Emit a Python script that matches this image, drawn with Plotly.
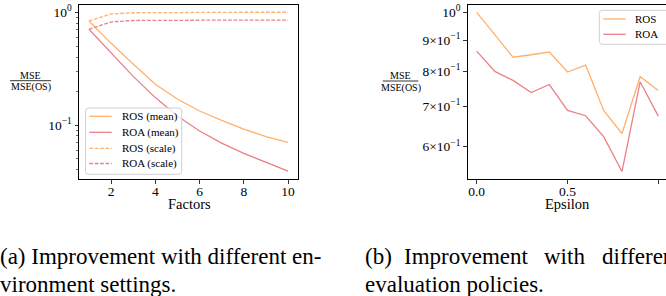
import plotly.graph_objects as go

# ---------------- data ----------------
factors = [1, 2, 3, 4, 5, 6, 7, 8, 9, 10]
ros_mean = [0.837, 0.53, 0.347, 0.23, 0.17, 0.133, 0.11, 0.092, 0.079, 0.070]
roa_mean = [0.706, 0.435, 0.27, 0.175, 0.12, 0.0885, 0.069, 0.056, 0.047, 0.039]
ros_scale = [0.837, 0.965, 0.99, 0.995, 0.998, 1.0, 1.0, 1.0, 1.0, 1.0]
roa_scale = [0.706, 0.82, 0.845, 0.849, 0.851, 0.852, 0.853, 0.853, 0.853, 0.853]

epsilon = [0.0, 0.1, 0.2, 0.3, 0.4, 0.5, 0.6, 0.7, 0.8, 0.9, 1.0]
ros_eps = [1.0, 0.918, 0.843, 0.851, 0.860, 0.797, 0.818, 0.688, 0.631, 0.783, 0.743]
roa_eps = [0.863, 0.799, 0.772, 0.737, 0.760, 0.689, 0.675, 0.623, 0.546, 0.768, 0.674]

left_yticks = [0.1, 1.0]
left_yticktext = ["10<sup>\u22121</sup>", "10<sup>0</sup>"]
left_yminor = [0.04, 0.05, 0.06, 0.07, 0.08, 0.09, 0.2, 0.3, 0.4, 0.5, 0.6, 0.7, 0.8, 0.9]
left_xticks = [2, 4, 6, 8, 10]

right_yticks = [0.6, 0.7, 0.8, 0.9, 1.0]
right_yticktext = ["6\u00d710<sup>\u22121</sup>", "7\u00d710<sup>\u22121</sup>",
                   "8\u00d710<sup>\u22121</sup>", "9\u00d710<sup>\u22121</sup>", "10<sup>0</sup>"]
right_xticks = [0.0, 0.5, 1.0]
right_xticktext = ["0.0", "0.5", "1.0"]

left_legend_names = ["ROS (mean)", "ROA (mean)", "ROS (scale)", "ROA (scale)"]
right_legend_names = ["ROS", "ROA"]

ORANGE = "#FFB16E"
RED = "#EB8088"
DASH = "3.7px,1.7px"
FONT = "Liberation Serif"
W, H = 666, 296


def px(x):
    return x / W


def py(y):
    return 1 - y / H


fig = go.Figure()

left_styles = [(ros_mean, ORANGE, "solid"), (roa_mean, RED, "solid"),
               (ros_scale, ORANGE, DASH), (roa_scale, RED, DASH)]
for name, (vals, col, dash) in zip(left_legend_names, left_styles):
    fig.add_trace(go.Scatter(x=factors, y=vals, mode="lines", name=name,
                             line=dict(color=col, width=1.3, dash=dash), xaxis="x", yaxis="y"))

right_styles = [(ros_eps, ORANGE), (roa_eps, RED)]
for name, (vals, col) in zip(right_legend_names, right_styles):
    fig.add_trace(go.Scatter(x=epsilon, y=vals, mode="lines", name=name,
                             line=dict(color=col, width=1.3), xaxis="x2", yaxis="y2"))

tickfont = dict(family=FONT, size=13.5, color="black")
axis_common = dict(showgrid=False, zeroline=False, showline=True, linecolor="black", linewidth=1,
                   ticks="outside", ticklen=3.5, tickwidth=0.8, tickcolor="black", tickfont=tickfont)

fig.update_layout(
    width=W, height=H, margin=dict(l=0, r=0, t=0, b=0),
    paper_bgcolor="white", plot_bgcolor="white",
    font=dict(family=FONT, color="black"),
    showlegend=False, hovermode=False,
    xaxis=dict(domain=[px(79), px(298)], range=[0.55, 10.45], tickmode="array", tickvals=left_xticks,
               mirror=True, anchor="y", ticklabelstandoff=-4, **axis_common),
    yaxis=dict(domain=[py(179), py(4.7)], type="log", range=[-1.479, 0.067], tickmode="array",
               tickvals=left_yticks, ticktext=left_yticktext, mirror=True, anchor="x",
               minor=dict(tickmode="array", tickvals=left_yminor, ticks="outside", ticklen=2,
                          tickwidth=0.6, tickcolor="black"),
               **axis_common),
    xaxis2=dict(domain=[px(467.6), 1.0], range=[-0.05, 1.0424], tickmode="array", tickvals=right_xticks,
                ticktext=right_xticktext, mirror=True, anchor="y2", ticklabelstandoff=-4, **axis_common),
    yaxis2=dict(domain=[py(179), py(4.7)], type="log", range=[-0.2751, 0.01254], tickmode="array",
                tickvals=right_yticks, ticktext=right_yticktext, mirror=False, anchor="x2",
                **axis_common),
)

annotations = []
shapes = []


def text(x, y, s, size, xanchor="center", yanchor="middle"):
    annotations.append(dict(x=px(x), y=py(y), xref="paper", yref="paper", text=s, showarrow=False,
                            xanchor=xanchor, yanchor=yanchor, borderpad=0,
                            font=dict(family=FONT, size=size, color="black")))


def rounded_box(x0, y0, x1, y1, r=3):
    rx, ry = r / W, r / H
    X0, X1, Y0, Y1 = px(x0), px(x1), py(y1), py(y0)
    path = (f"M {X0+rx},{Y0} L {X1-rx},{Y0} Q {X1},{Y0} {X1},{Y0+ry} L {X1},{Y1-ry} "
            f"Q {X1},{Y1} {X1-rx},{Y1} L {X0+rx},{Y1} Q {X0},{Y1} {X0},{Y1-ry} "
            f"L {X0},{Y0+ry} Q {X0},{Y0} {X0+rx},{Y0} Z")
    shapes.append(dict(type="path", xref="paper", yref="paper", path=path,
                       fillcolor="rgba(255,255,255,0.8)", line=dict(color="#d0d0d0", width=1)))


def legend(names, styles, box, rows, lx0, lx1, tx):
    rounded_box(*box)
    for n, st, ry in zip(names, styles, rows):
        col, dash = st
        shapes.append(dict(type="line", xref="paper", yref="paper", x0=px(lx0), x1=px(lx1),
                           y0=py(ry), y1=py(ry), line=dict(color=col, width=1.3, dash=dash)))
        text(tx, ry, n, 11, xanchor="left")


legend(left_legend_names, [(c, d) for _, c, d in left_styles], (85.5, 108, 181.7, 174.3),
       [116.3, 132.3, 148.3, 163.5], 89.3, 111.7, 120.7)
legend(right_legend_names, [(c, "solid") for _, c in right_styles], (599.3, 10.3, 690, 44.3),
       [19, 34.3], 603.3, 625.7, 634.3)

# axis titles
text(189, 204, "Factors", 14.5)
text(567, 204, "Epsilon", 14.5)

# fraction y labels
for cx, x0, x1, ly in [(30.5, 10, 51, 80.7), (400.5, 382.7, 418.3, 81)]:
    text(cx, ly - 5.5, "MSE", 10)
    text(cx, ly + 6.5, "MSE(OS)", 10)
    shapes.append(dict(type="line", xref="paper", yref="paper", x0=px(x0), x1=px(x1),
                       y0=py(ly), y1=py(ly), line=dict(color="black", width=0.8)))

# captions
CAP = 23
text(-1.5, 256.5, "(a) Improvement with different en-", CAP, xanchor="left")
text(-1.5, 284, "vironment settings.", CAP, xanchor="left")
for wx, w in [(364, "(b)"), (403, "Improvement"), (543, "with"), (601, "different")]:
    text(wx, 256.5, w, CAP, xanchor="left")
text(364, 284, "evaluation policies.", CAP, xanchor="left")

fig.update_layout(annotations=annotations, shapes=shapes)

fig.write_html("out.html", config={"displayModeBar": False, "staticPlot": True},
               post_script="document.body.style.margin='0px';")
